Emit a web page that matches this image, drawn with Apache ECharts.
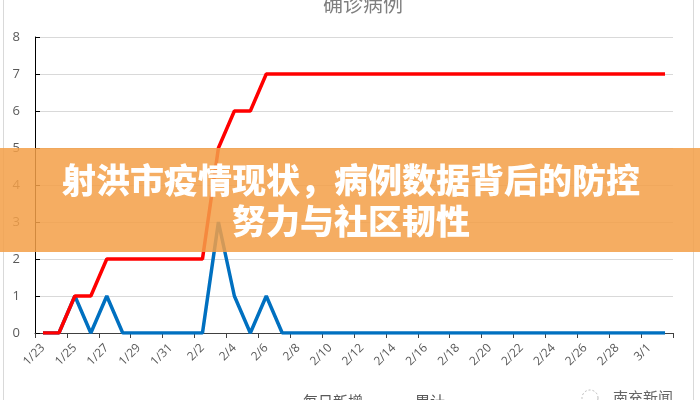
<!DOCTYPE html>
<html>
<head>
<meta charset="utf-8">
<script src="https://cdn.jsdelivr.net/npm/echarts@6/dist/echarts.min.js"></script>
<style>
html,body{margin:0;padding:0;background:#fff;}
#chart{width:700px;height:400px;}
</style>
</head>
<body>
<div id="chart"></div>
<script>
var categories = ['1/23','1/24','1/25','1/26','1/27','1/28','1/29','1/30','1/31',
  '2/1','2/2','2/3','2/4','2/5','2/6','2/7','2/8','2/9','2/10','2/11','2/12','2/13','2/14',
  '2/15','2/16','2/17','2/18','2/19','2/20','2/21','2/22','2/23','2/24','2/25','2/26','2/27',
  '2/28','2/29','3/1','3/2'];
var dailyNew = [0,0,1,0,1,0,0,0,0,0,0,3,1,0,1,0,
  0,0,0,0,0,0,0,0,0,0,0,0,0,0,0,0,0,0,0,0,0,0,0,0];
var cumulative = [0,0,1,1,2,2,2,2,2,2,2,5,6,6,7,7,
  7,7,7,7,7,7,7,7,7,7,7,7,7,7,7,7,7,7,7,7,7,7,7,7];
var yTicks = [0,1,2,3,4,5,6,7,8];
var titleText = '确诊病例';
var seriesNames = ['每日新增','累计'];
var bannerLines = ['射洪市疫情现状，病例数据背后的防控','努力与社区韧性'];
var watermark = '南充新闻';

var chart = echarts.init(document.getElementById('chart'), null, {renderer:'canvas'});
var cjk = '"Noto Sans CJK SC", "Noto Sans", sans-serif';
chart.setOption({
  animation:false,
  backgroundColor:'#fff',
  title:{
    text:titleText, left:358, top:-11, textAlign:'center',
    textStyle:{fontFamily:cjk, fontSize:20, fontWeight:'normal', color:'#7f7f7f'}
  },
  legend:{
    data:seriesNames, left:268, top:389, itemWidth:25, itemHeight:3, itemGap:22,
    icon:'rect',
    textStyle:{fontFamily:cjk, fontSize:15, color:'#595959', padding:[0,0,0,0]}
  },
  grid:{left:35, right:27, top:37, bottom:67, containLabel:false},
  xAxis:{
    type:'category', data:categories, boundaryGap:true,
    axisLine:{lineStyle:{color:'#404040', width:1}},
    axisTick:{show:true, interval:1, length:5, lineStyle:{color:'#404040'}},
    axisLabel:{interval:1, rotate:45, margin:13, fontSize:12, color:'#595959', fontFamily:'"Open Sans", sans-serif'},
    splitLine:{show:false}
  },
  yAxis:{
    type:'value', min:0, max:8, interval:1,
    axisLine:{show:true, lineStyle:{color:'#000', width:1}},
    axisTick:{show:true, inside:true, length:5, lineStyle:{color:'#000'}},
    axisLabel:{margin:15, fontSize:13, color:'#595959', fontFamily:'"Open Sans", sans-serif',
      formatter:function(v){return yTicks.indexOf(v)>=0 ? String(v) : '';}},
    splitLine:{show:true, lineStyle:{color:'#d9d9d9', width:1}}
  },
  series:[
    {name:seriesNames[0], type:'line', data:dailyNew, symbol:'none', z:3,
      lineStyle:{color:'#0070c0', width:3.5}, itemStyle:{color:'#0070c0'}},
    {name:seriesNames[1], type:'line', data:cumulative, symbol:'none', z:4,
      lineStyle:{color:'#ff0000', width:3.5}, itemStyle:{color:'#ff0000'}}
  ],
  graphic:[
    {type:'rect', shape:{x:3.5, y:-5, width:690, height:420}, silent:true, z:-1,
      style:{fill:'none', stroke:'#d9d9d9', lineWidth:1}},
    {type:'rect', shape:{x:0, y:148, width:700, height:104}, z:100, silent:true,
      style:{fill:'rgba(243,160,72,0.86)'}},
    {type:'text', x:351, y:180, z:101, silent:true,
      style:{text:bannerLines[0], fill:'#fff', font:'900 34px "Noto Sans CJK SC", sans-serif',
        textAlign:'center', textVerticalAlign:'middle'}},
    {type:'text', x:351, y:221, z:101, silent:true,
      style:{text:bannerLines[1], fill:'#fff', font:'900 34px "Noto Sans CJK SC", sans-serif',
        textAlign:'center', textVerticalAlign:'middle'}},
    {type:'circle', shape:{cx:590, cy:398, r:8}, z:50, silent:true,
      style:{fill:'none', stroke:'#bbb', lineWidth:1, lineDash:[2,2]}},
    {type:'text', x:613, y:390, z:50, silent:true,
      style:{text:watermark, fill:'#666', font:'15px "Noto Sans CJK SC", sans-serif'}}
  ]
});
</script>
</body>
</html>
